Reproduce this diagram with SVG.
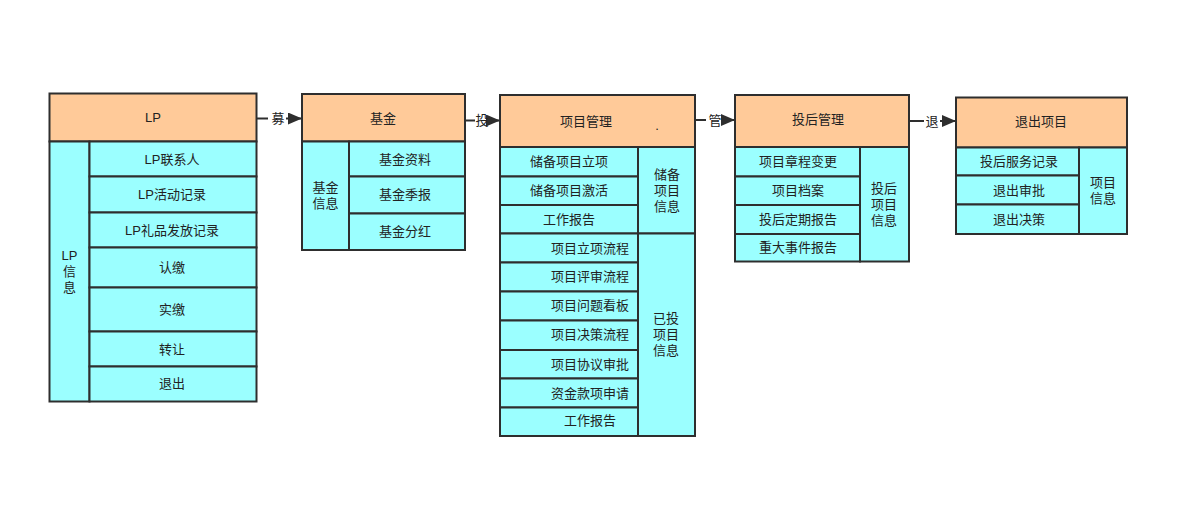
<svg xmlns="http://www.w3.org/2000/svg" width="1177" height="529" viewBox="0 0 1177 529">
<defs>
<style>
.h{fill:#FFCA99;stroke:#2e2e2e;stroke-width:2}
.c{fill:#9BFFFF;stroke:#2e2e2e;stroke-width:2}
text{font-family:"Liberation Sans","Noto Sans CJK SC",sans-serif;font-size:13px;fill:#222;text-anchor:middle;dominant-baseline:central}
.ln{stroke:#2e2e2e;stroke-width:2;fill:none}
</style>
<marker id="ah" markerWidth="14" markerHeight="12" refX="13" refY="6" orient="auto" markerUnits="userSpaceOnUse">
<path d="M0,0 L14,6 L0,12 Z" fill="#2e2e2e"/>
</marker>
</defs>
<rect width="1177" height="529" fill="#fff"/>

<g id="connectors">
<line class="ln" x1="257" y1="118.5" x2="268" y2="118.5"/>
<line class="ln" x1="286" y1="118.5" x2="301" y2="118.5" marker-end="url(#ah)"/>
<text x="278" y="118.5">募</text>
<line class="ln" x1="466" y1="120.5" x2="475" y2="120.5"/>
<line class="ln" x1="488" y1="120.5" x2="499" y2="120.5" marker-end="url(#ah)"/>
<text x="482" y="120.5">投</text>
<line class="ln" x1="696" y1="120" x2="706" y2="120"/>
<line class="ln" x1="722" y1="120" x2="734" y2="120" marker-end="url(#ah)"/>
<text x="715" y="120">管</text>
<line class="ln" x1="910" y1="121" x2="924" y2="121"/>
<line class="ln" x1="940" y1="121" x2="955" y2="121" marker-end="url(#ah)"/>
<text x="932" y="121">退</text>
</g>

<g id="lp">
<rect class="h" x="49.5" y="93.5" width="207" height="48"/>
<text x="153" y="117.5">LP</text>
<rect class="c" x="49.5" y="141.5" width="40" height="260"/>
<text x="69.5" y="255.5">LP</text>
<text x="69.5" y="271.5">信</text>
<text x="69.5" y="287.5">息</text>
<rect class="c" x="89.5" y="141.5" width="167" height="35"/>
<text x="172" y="159">LP联系人</text>
<rect class="c" x="89.5" y="176.5" width="167" height="36"/>
<text x="172" y="194.5">LP活动记录</text>
<rect class="c" x="89.5" y="212.5" width="167" height="35"/>
<text x="172" y="230">LP礼品发放记录</text>
<rect class="c" x="89.5" y="247.5" width="167" height="40"/>
<text x="172" y="267">认缴</text>
<rect class="c" x="89.5" y="287.5" width="167" height="44"/>
<text x="172" y="309.5">实缴</text>
<rect class="c" x="89.5" y="331.5" width="167" height="35"/>
<text x="172" y="349">转让</text>
<rect class="c" x="89.5" y="366.5" width="167" height="35"/>
<text x="172" y="383.5">退出</text>
</g>

<g id="fund">
<rect class="h" x="302" y="94" width="163" height="47.5"/>
<text x="383" y="118">基金</text>
<rect class="c" x="302" y="141.5" width="47" height="108.5"/>
<text x="325.5" y="187">基金</text>
<text x="325.5" y="203">信息</text>
<rect class="c" x="349" y="141.5" width="116" height="35"/>
<text x="405" y="159.5">基金资料</text>
<rect class="c" x="349" y="176.5" width="116" height="37"/>
<text x="405" y="194.5">基金季报</text>
<rect class="c" x="349" y="213.5" width="116" height="36.5"/>
<text x="405" y="231.5">基金分红</text>
</g>

<g id="project">
<rect class="h" x="500" y="95" width="195" height="52"/>
<text x="586" y="121">项目管理</text>
<text x="657" y="125" font-size="8">.</text>
<rect class="c" x="500" y="147" width="138" height="29.5"/>
<text x="569" y="161.5">储备项目立项</text>
<rect class="c" x="500" y="176.5" width="138" height="28.5"/>
<text x="569" y="190.5">储备项目激活</text>
<rect class="c" x="500" y="205" width="138" height="28.5"/>
<text x="569" y="219">工作报告</text>
<rect class="c" x="638" y="147" width="57" height="86.5"/>
<text x="667" y="174">储备</text>
<text x="667" y="190">项目</text>
<text x="667" y="206">信息</text>
<rect class="c" x="500" y="233.5" width="138" height="29"/>
<text x="590" y="248">项目立项流程</text>
<rect class="c" x="500" y="262.5" width="138" height="29"/>
<text x="590" y="276.5">项目评审流程</text>
<rect class="c" x="500" y="291.5" width="138" height="29"/>
<text x="590" y="305.5">项目问题看板</text>
<rect class="c" x="500" y="320.5" width="138" height="29.5"/>
<text x="590" y="334.5">项目决策流程</text>
<rect class="c" x="500" y="350" width="138" height="28.5"/>
<text x="590" y="364">项目协议审批</text>
<rect class="c" x="500" y="378.5" width="138" height="29"/>
<text x="590" y="393">资金款项申请</text>
<rect class="c" x="500" y="407.5" width="138" height="28.5"/>
<text x="590" y="420.5">工作报告</text>
<rect class="c" x="638" y="233.5" width="57" height="202.5"/>
<text x="666" y="318">已投</text>
<text x="666" y="334">项目</text>
<text x="666" y="350">信息</text>
</g>

<g id="post">
<rect class="h" x="735" y="95" width="174" height="52"/>
<text x="818" y="119.5">投后管理</text>
<rect class="c" x="735" y="147" width="125" height="29.5"/>
<text x="798" y="161">项目章程变更</text>
<rect class="c" x="735" y="176.5" width="125" height="28.5"/>
<text x="798" y="190">项目档案</text>
<rect class="c" x="735" y="205" width="125" height="29"/>
<text x="798" y="219">投后定期报告</text>
<rect class="c" x="735" y="234" width="125" height="27.5"/>
<text x="798" y="247.5">重大事件报告</text>
<rect class="c" x="860" y="147" width="49" height="114.5"/>
<text x="884" y="188">投后</text>
<text x="884" y="204">项目</text>
<text x="884" y="220">信息</text>
</g>

<g id="exit">
<rect class="h" x="956" y="97.5" width="171" height="50"/>
<text x="1041" y="121.5">退出项目</text>
<rect class="c" x="956" y="147.5" width="123" height="28"/>
<text x="1019" y="161">投后服务记录</text>
<rect class="c" x="956" y="175.5" width="123" height="29"/>
<text x="1019" y="190">退出审批</text>
<rect class="c" x="956" y="204.5" width="123" height="29.5"/>
<text x="1019" y="219">退出决策</text>
<rect class="c" x="1079" y="147.5" width="48" height="86.5"/>
<text x="1103" y="182">项目</text>
<text x="1103" y="198">信息</text>
</g>
</svg>
